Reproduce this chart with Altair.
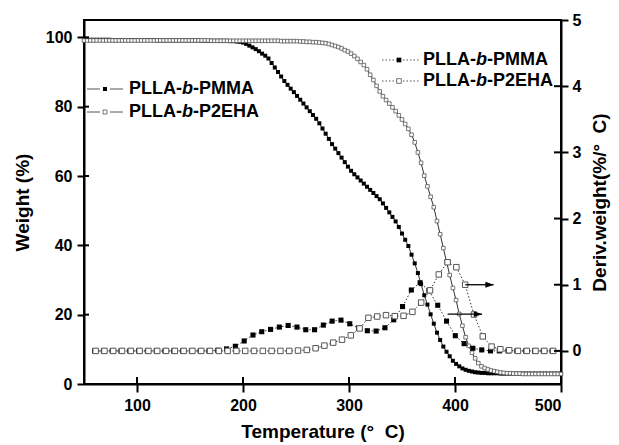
import altair as alt
import pandas as pd

FONT = "Liberation Sans"

# ---- TGA (weight %, left axis) ----
T_TGA = [50, 53, 56, 59, 62, 65, 68, 71, 74, 77, 80, 83, 86, 89, 92, 95, 98, 101, 104, 107,
         110, 113, 116, 119, 122, 125, 128, 131, 134, 137, 140, 143, 146, 149, 152, 155, 158, 161, 164, 167,
         170, 173, 176, 179, 182, 185, 188, 191, 194, 197, 200, 203, 206, 209, 212, 215, 218, 221, 224, 227,
         230, 233, 236, 239, 242, 245, 248, 251, 254, 257, 260, 263, 266, 269, 272, 275, 278, 281, 284, 287,
         290, 293, 296, 299, 302, 305, 308, 311, 314, 317, 320, 323, 326, 329, 332, 335, 338, 341, 344, 347,
         350, 353, 356, 359, 362, 365, 368, 371, 374, 377, 380, 383, 386, 389, 392, 395, 398, 401, 404, 407,
         410, 413, 416, 419, 422, 425, 428, 431, 434, 437, 440, 443, 446, 449, 452, 455, 458, 461, 464, 467,
         470, 473, 476, 479, 482, 485, 488, 491, 494, 497, 500]

W_PMMA = [99.3, 99.3, 99.3, 99.3, 99.3, 99.3, 99.3, 99.3, 99.3, 99.2, 99.2, 99.2, 99.2, 99.2, 99.2, 99.2, 99.2, 99.2, 99.2, 99.2,
          99.2, 99.2, 99.2, 99.1, 99.1, 99.1, 99.1, 99.1, 99.1, 99.1, 99.1, 99.1, 99.1, 99.1, 99.1, 99.1, 99.1, 99.0, 99.0, 99.0,
          99.0, 99.0, 99.0, 99.0, 99.0, 99.0, 98.9, 98.9, 98.8, 98.7, 98.5, 98.1, 97.6, 97.1, 96.6, 96.0, 95.3, 94.7, 93.9, 92.6,
          91.3, 90.0, 88.7, 87.4, 86.3, 85.2, 84.2, 83.1, 82.0, 80.9, 79.8, 78.7, 77.6, 76.5, 75.2, 73.7, 72.2, 70.7, 69.2, 67.9,
          66.6, 65.3, 64.0, 62.7, 61.5, 60.5, 59.6, 58.7, 57.8, 56.9, 56.0, 55.1, 54.2, 53.3, 52.1, 50.8, 49.5, 48.2, 46.9, 45.3,
          43.4, 41.6, 39.8, 37.3, 34.8, 32.0, 28.8, 25.6, 22.9, 20.1, 17.4, 14.8, 12.7, 10.8, 9.3, 8.0, 6.7, 5.8, 5.1, 4.5,
          4.1, 3.8, 3.6, 3.4, 3.3, 3.2, 3.2, 3.1, 3.1, 3.1, 3.1, 3.0, 3.0, 3.0, 3.0, 3.0, 3.0, 3.0, 3.0, 3.0,
          3.0, 3.0, 3.0, 3.0, 3.0, 3.0, 3.0, 3.0, 3.0, 3.0, 3.0]

W_P2EHA = [99.1, 99.1, 99.1, 99.1, 99.1, 99.1, 99.1, 99.1, 99.1, 99.1, 99.1, 99.1, 99.1, 99.1, 99.1, 99.1, 99.1, 99.1, 99.1, 99.1,
           99.1, 99.1, 99.1, 99.1, 99.1, 99.1, 99.1, 99.1, 99.1, 99.1, 99.1, 99.1, 99.1, 99.1, 99.1, 99.1, 99.1, 99.1, 99.1, 99.1,
           99.0, 99.0, 99.0, 99.0, 99.0, 99.0, 99.0, 99.0, 99.0, 99.0, 99.0, 99.0, 99.0, 99.0, 99.0, 99.0, 99.0, 99.0, 99.0, 99.0,
           99.0, 99.0, 98.9, 98.9, 98.9, 98.9, 98.9, 98.9, 98.8, 98.8, 98.7, 98.7, 98.6, 98.6, 98.5, 98.4, 98.3, 98.1, 97.8, 97.5,
           97.2, 96.8, 96.3, 95.9, 95.3, 94.6, 93.8, 92.9, 92.0, 90.8, 89.2, 87.7, 86.0, 84.4, 83.0, 81.9, 80.9, 79.8, 78.7, 77.5,
           76.3, 75.0, 73.6, 71.9, 69.7, 66.8, 63.8, 60.1, 57.0, 54.0, 51.0, 47.0, 43.2, 39.2, 35.3, 31.4, 27.7, 24.2, 20.2, 16.8,
           13.5, 11.0, 9.0, 7.4, 6.0, 5.1, 4.6, 4.2, 3.9, 3.7, 3.5, 3.3, 3.2, 3.1, 3.1, 3.0, 3.0, 3.0, 2.9, 2.9,
           2.9, 2.9, 2.9, 2.9, 2.9, 2.9, 2.9, 2.9, 2.9, 2.9, 2.9]

# ---- DTG (deriv. weight %/°C, right axis) ----
T_DTG_PMMA = [60.0, 68.3, 76.6, 84.9, 93.2, 101.5, 109.8, 118.1, 126.4, 134.7, 143.0, 151.3, 159.6, 167.9,
              176.2, 184.5, 192.8, 201.1, 209.4, 217.7, 226.0, 234.3, 242.6, 250.9, 259.2, 267.5, 275.8, 284.1,
              292.4, 300.7, 309.0, 317.3, 325.6, 333.9, 342.2, 350.5, 358.8, 367.1, 375.4, 383.7, 392.0, 400.3,
              408.6, 416.9, 425.2, 433.5, 441.8, 450.1, 458.4, 466.7, 475.0, 483.3, 491.6]
D_PMMA = [0.0, 0.0, 0.0, 0.0, 0.0, 0.0, 0.0, 0.0, 0.0, 0.0, 0.0, 0.0, 0.0, 0.0,
          0.01, 0.03, 0.07, 0.15, 0.24, 0.29, 0.325, 0.36, 0.385, 0.36, 0.32, 0.32, 0.39, 0.45,
          0.465, 0.41, 0.345, 0.305, 0.30, 0.35, 0.47, 0.67, 0.92, 1.03, 0.91, 0.69, 0.45, 0.23,
          0.11, 0.04, 0.015, 0.0, 0.0, 0.0, 0.0, 0.0, 0.0, 0.0, 0.0]

T_DTG_P2EHA = [61.0, 69.3, 77.6, 85.9, 94.2, 102.5, 110.8, 119.1, 127.4, 135.7, 144.0, 152.3, 160.6, 168.9,
               177.2, 185.5, 193.8, 202.1, 210.4, 218.7, 227.0, 235.3, 243.6, 251.9, 260.2, 268.5, 276.8, 285.1,
               293.4, 301.7, 310.0, 318.3, 326.6, 334.9, 343.2, 351.5, 359.8, 368.1, 376.4, 384.7, 393.0, 401.3,
               409.6, 417.9, 426.2, 434.5, 442.8, 451.1, 459.4, 467.7, 476.0, 484.3, 492.6]
D_P2EHA = [0.0, 0.0, 0.0, 0.0, 0.0, 0.0, 0.0, 0.0, 0.0, 0.0, 0.0, 0.0, 0.0, 0.0,
           0.0, 0.0, 0.0, 0.0, 0.0, 0.0, 0.0, 0.0, 0.0, 0.005, 0.015, 0.04, 0.08, 0.125,
           0.17, 0.235, 0.34, 0.50, 0.52, 0.54, 0.525, 0.53, 0.59, 0.73, 0.915, 1.155, 1.34, 1.265,
           1.0, 0.55, 0.22, 0.065, 0.025, 0.01, 0.0, 0.0, 0.0, 0.0, 0.0]

# ---- axes / annotations ----
X_TICKS = [100, 200, 300, 400, 500]
WL_TICKS = [0, 20, 40, 60, 80, 100]
DR_TICKS = [0, 1, 2, 3, 4, 5]

ARROW_T0 = [409.7, 393.0]
ARROW_T1 = [436.4, 425.5]
ARROW_D = [1.0, 0.555]

SERIES = ["PLLA-b-PMMA", "PLLA-b-P2EHA"]

W, H = 477, 364
LINE_COL = "#333333"
OPEN_COL = "#555555"
NBSP = "\u00a0"

tga_pmma = pd.DataFrame({"T": T_TGA, "W": W_PMMA})
tga_p2 = pd.DataFrame({"T": T_TGA, "W": W_P2EHA})
dtg_pmma = pd.DataFrame({"T": T_DTG_PMMA, "D": D_PMMA})
dtg_p2 = pd.DataFrame({"T": T_DTG_P2EHA, "D": D_P2EHA})
arrows = pd.DataFrame({"T": ARROW_T0, "T1": ARROW_T1, "D": ARROW_D})

x_scale = alt.Scale(domain=[50, 500], nice=False, zero=False)
x_axis = alt.Axis(values=X_TICKS, title="Temperature (°" + NBSP + " C)", format="d",
                  tickSize=8, labelPadding=5, titlePadding=9)
x_enc = alt.X("T:Q", scale=x_scale, axis=x_axis)
yl_enc = alt.Y("W:Q", scale=alt.Scale(domain=[0, 105], nice=False, zero=False),
               axis=alt.Axis(values=WL_TICKS, title="Weight (%)", orient="left", format="d",
                             tickSize=7, labelPadding=5, titlePadding=13))
yr_enc = alt.Y("D:Q", scale=alt.Scale(domain=[-0.5, 5], nice=False, zero=False),
               axis=alt.Axis(values=DR_TICKS, title="Deriv.weight(%/°" + NBSP + " C)", orient="right",
                             format="d", tickSize=7, labelPadding=4, titlePadding=10,
                             titleAngle=270, titleBaseline="top"))

# left (TGA) group
tga_layers = [
    alt.Chart(tga_pmma).mark_line(color=LINE_COL, strokeWidth=1).encode(x=x_enc, y=yl_enc),
    alt.Chart(tga_pmma).mark_point(shape="square", filled=True, color="black", size=16, opacity=1).encode(x=x_enc, y=yl_enc),
    alt.Chart(tga_p2).mark_line(color=LINE_COL, strokeWidth=1).encode(x=x_enc, y=yl_enc),
    alt.Chart(tga_p2).mark_point(shape="square", filled=False, fill="white", color=OPEN_COL, strokeWidth=0.8,
                                 size=13, opacity=1).encode(x=x_enc, y=yl_enc),
    alt.Chart(pd.DataFrame({"T": X_TICKS})).mark_rule(color="black", strokeWidth=2).encode(
        x=x_enc, y=alt.value(H), y2=alt.value(H - 7)),
    alt.Chart(pd.DataFrame({"W": WL_TICKS})).mark_rule(color="black", strokeWidth=2).encode(
        y=yl_enc, x=alt.value(0), x2=alt.value(5)),
]
left_group = alt.layer(*tga_layers)

arrow_head = "M -1 -0.7 L 1 0 L -1 0.7 Z"
dtg_layers = [
    alt.Chart(dtg_pmma).mark_line(color=LINE_COL, strokeWidth=1, strokeDash=[1.5, 2]).encode(x=x_enc, y=yr_enc),
    alt.Chart(dtg_pmma).mark_point(shape="square", filled=True, color="black", size=26, opacity=1).encode(x=x_enc, y=yr_enc),
    alt.Chart(dtg_p2).mark_line(color=LINE_COL, strokeWidth=1, strokeDash=[1.5, 2]).encode(x=x_enc, y=yr_enc),
    alt.Chart(dtg_p2).mark_point(shape="square", filled=False, fill="white", color=OPEN_COL, strokeWidth=1,
                                 size=30, opacity=1).encode(x=x_enc, y=yr_enc),
    alt.Chart(arrows).mark_rule(color="black", strokeWidth=1.3).encode(x=x_enc, x2="T1:Q", y=yr_enc),
    alt.Chart(arrows).mark_point(shape=arrow_head, filled=True, color="black", size=70, opacity=1,
                                 xOffset=-4).encode(x=alt.X("T1:Q", scale=x_scale, axis=x_axis), y=yr_enc),
    alt.Chart(pd.DataFrame({"D": DR_TICKS})).mark_rule(color="black", strokeWidth=2).encode(
        y=yr_enc, x=alt.value(W - 7), x2=alt.value(W)),
]
right_group = alt.layer(*dtg_layers)

# ---- in-plot legends (drawn by hand: mixed bold / bold-italic text) ----
FS = 18
EM_PREFIX = 2.944   # "PLLA-" width in em (Arial/Liberation bold)
EM_B = 0.611        # "b"
one = pd.DataFrame({"k": [0]})
legend_layers = []


def legend_text(label, x0, y):
    pre, rest = label.split("-b-")
    parts = [(pre + "-", 0.0, "normal"), ("b", EM_PREFIX * FS, "italic"), ("-" + rest, (EM_PREFIX + EM_B) * FS, "normal")]
    out = []
    for txt, dx, style in parts:
        out.append(alt.Chart(one).mark_text(align="left", baseline="middle", font=FONT, fontSize=FS,
                                            fontWeight="bold", fontStyle=style, color="black").encode(
            x=alt.value(x0 + dx), y=alt.value(y), text=alt.value(txt)))
    return out


# left legend (TGA: solid line)
for i, (lab, yy) in enumerate(zip(SERIES, [69, 92])):
    legend_layers.append(alt.Chart(one).mark_rule(color="#555555", strokeWidth=1).encode(
        x=alt.value(3), x2=alt.value(16), y=alt.value(yy)))
    legend_layers.append(alt.Chart(one).mark_rule(color="#555555", strokeWidth=1).encode(
        x=alt.value(26), x2=alt.value(39), y=alt.value(yy)))
    if i == 0:
        legend_layers.append(alt.Chart(one).mark_point(shape="square", filled=True, color="black", size=16,
                                                       opacity=1).encode(x=alt.value(21), y=alt.value(yy)))
    else:
        legend_layers.append(alt.Chart(one).mark_point(shape="square", filled=False, fill="white", color=OPEN_COL,
                                                       strokeWidth=0.8, size=16, opacity=1).encode(
            x=alt.value(21), y=alt.value(yy)))
    legend_layers += legend_text(lab, 45, yy)

# right legend (DTG: dotted line)
for i, (lab, yy) in enumerate(zip(SERIES, [40, 61])):
    legend_layers.append(alt.Chart(one).mark_rule(color="#555555", strokeWidth=1, strokeDash=[1.5, 2]).encode(
        x=alt.value(298), x2=alt.value(336), y=alt.value(yy)))
    if i == 0:
        legend_layers.append(alt.Chart(one).mark_point(shape="square", filled=True, color="black", size=22,
                                                       opacity=1).encode(x=alt.value(315), y=alt.value(yy)))
    else:
        legend_layers.append(alt.Chart(one).mark_point(shape="square", filled=False, fill="white", color=OPEN_COL,
                                                       strokeWidth=0.8, size=22, opacity=1).encode(
            x=alt.value(315), y=alt.value(yy)))
    legend_layers += legend_text(lab, 339, yy)

chart = alt.layer(left_group, right_group, *legend_layers).resolve_scale(y="independent").properties(
    width=W, height=H,
    autosize=alt.AutoSizeParams(type="none"),
    padding={"left": 84, "top": 20, "right": 58, "bottom": 61},
).configure_view(
    stroke="black", strokeWidth=2
).configure_axis(
    grid=False, domainColor="black", domainWidth=2, tickColor="black", tickWidth=2,
    labelFont=FONT, labelFontSize=16, labelFontWeight="bold", labelColor="black",
    titleFont=FONT, titleFontSize=19, titleFontWeight="bold", titleColor="black",
)

chart.save("out.html", embed_options={"renderer": "svg", "actions": False})
